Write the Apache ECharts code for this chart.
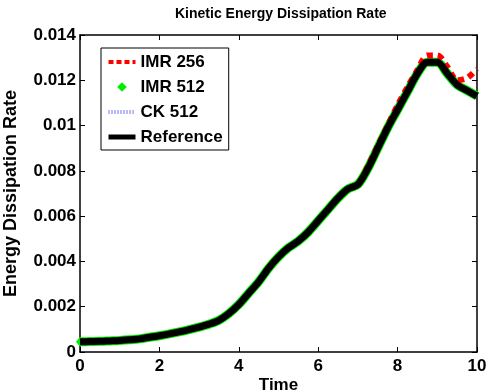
<!DOCTYPE html>
<html>
<head>
<meta charset="utf-8">
<script src="https://cdn.jsdelivr.net/npm/echarts@6/dist/echarts.min.js"></script>
<style>html,body{margin:0;padding:0;background:#fff}#c{width:488px;height:391px}</style>
</head>
<body>
<div id="c"></div>
<script>
var times = [0,0.25,0.5,0.75,1,1.25,1.5,1.75,2,2.25,2.5,2.75,3,3.25,3.5,3.75,4,4.25,4.5,4.75,5,5.25,5.5,5.75,6,6.25,6.5,6.75,7,7.25,7.5,7.75,8,8.25,8.5,8.75,9,9.25,9.5,9.75,10];
var reference = [0.00045,0.00046,0.00047,0.00049,0.00051,0.00054,0.00058,0.00065,0.00072,0.0008,0.00089,0.00099,0.0011,0.00123,0.0014,0.0017,0.0021,0.0026,0.0031,0.0037,0.0042,0.0046,0.0049,0.0053,0.0058,0.0063,0.0068,0.0072,0.0074,0.0081,0.009,0.0099,0.0107,0.0115,0.0123,0.0128,0.0128,0.0123,0.0118,0.01155,0.0113];
var imr256 = [0.00045,0.00046,0.00047,0.00049,0.00051,0.00054,0.00058,0.00065,0.00072,0.0008,0.00089,0.00099,0.0011,0.00123,0.0014,0.0017,0.0021,0.0026,0.0031,0.0037,0.0042,0.0046,0.0049,0.0053,0.0058,0.0063,0.0068,0.0072,0.0074,0.0082,0.0091,0.01,0.0109,0.0117,0.01245,0.0131,0.0131,0.0126,0.012,0.0121,0.0125];
var imr512 = [0.00045,0.00046,0.00047,0.00049,0.00051,0.00054,0.00058,0.00065,0.00072,0.0008,0.00089,0.00099,0.0011,0.00123,0.0014,0.0017,0.0021,0.0026,0.0031,0.0037,0.0042,0.0046,0.0049,0.0053,0.0058,0.0063,0.0068,0.0072,0.0074,0.0081,0.009,0.0099,0.0107,0.0115,0.0123,0.0128,0.0128,0.0123,0.0118,0.01155,0.0113];
var ck512 = [0.00045,0.00046,0.00047,0.00049,0.00051,0.00054,0.00058,0.00065,0.00072,0.0008,0.00089,0.00099,0.0011,0.00123,0.0014,0.0017,0.0021,0.0026,0.0031,0.0037,0.0042,0.0046,0.0049,0.0053,0.0058,0.0063,0.0068,0.0072,0.0074,0.0081,0.009,0.0099,0.0107,0.0115,0.0123,0.0128,0.0128,0.0123,0.0118,0.01155,0.0113];
var seriesNames = ['IMR 256','IMR 512','CK 512','Reference'];
var xTicks = {min:0, max:10, interval:2};
var yTicks = {min:0, max:0.014, interval:0.002};

function pairs(vals){ return times.map(function(t,i){ return [t, vals[i]]; }); }
var FONT = '"Liberation Sans", Arial, Helvetica, sans-serif';
var chart = echarts.init(document.getElementById('c'));
var greenData = pairs(imr512).map(function(p,i){
  return i === 0 ? {value:p} : {value:p, symbol:'none'};
});
var axisCommon = {
  axisLine:{show:true, onZero:false, lineStyle:{color:'#000', width:1.5}},
  axisTick:{show:true, inside:true, length:5, lineStyle:{color:'#000', width:1}},
  splitLine:{show:false}
};
chart.setOption({
  animation:false,
  backgroundColor:'#fff',
  title:{text:'Kinetic Energy Dissipation Rate', left:175, top:7, padding:0,
    textStyle:{fontFamily:FONT, fontWeight:'bold', fontSize:14, color:'#000'}},
  grid:{left:80, right:11, top:35, bottom:39, containLabel:false, outerBoundsMode:'none'},
  legend:{
    left:101, top:48, orient:'vertical',
    padding:[5,6,4,5], itemGap:7, itemWidth:27, itemHeight:12, itemTextGap:3,
    borderColor:'#000', borderWidth:1, backgroundColor:'#fff',
    itemStyle:{opacity:0},
    textStyle:{fontFamily:FONT, fontWeight:'bold', fontSize:17, color:'#000', lineHeight:18},
    data:[
      {name:'IMR 256', lineStyle:{width:4, type:[5,3]}},
      {name:'IMR 512', itemStyle:{opacity:1}, lineStyle:{opacity:0}},
      {name:'CK 512', lineStyle:{width:4, type:[1,2]}},
      {name:'Reference', lineStyle:{width:5}}
    ]
  },
  xAxis:[
    Object.assign({type:'value', min:xTicks.min, max:xTicks.max, interval:xTicks.interval, position:'bottom',
      name:'Time', nameLocation:'middle', nameGap:25, nameMoveOverlap:false,
      nameTextStyle:{fontFamily:FONT, fontWeight:'bold', fontSize:17, color:'#000', verticalAlign:'top'},
      axisLabel:{fontFamily:FONT, fontWeight:'bold', fontSize:17, color:'#000', margin:6}}, axisCommon),
    Object.assign({type:'value', min:xTicks.min, max:xTicks.max, interval:xTicks.interval, position:'top',
      axisLabel:{show:false}}, axisCommon)
  ],
  yAxis:[
    Object.assign({type:'value', min:yTicks.min, max:yTicks.max, interval:yTicks.interval, position:'left',
      name:'Energy Dissipation Rate', nameLocation:'middle', nameGap:60, nameRotate:90, nameMoveOverlap:false,
      nameTextStyle:{fontFamily:FONT, fontWeight:'bold', fontSize:18, color:'#000'},
      axisLabel:{fontFamily:FONT, fontWeight:'bold', fontSize:17, color:'#000', margin:4}}, axisCommon),
    Object.assign({type:'value', min:yTicks.min, max:yTicks.max, interval:yTicks.interval, position:'right',
      axisLabel:{show:false}}, axisCommon)
  ],
  series:[
    {name:seriesNames[1], type:'line', data:greenData, smooth:0.3, z:2, showSymbol:true,
      symbol:'diamond', symbolSize:[8,10],
      itemStyle:{color:'#00ee00'}, lineStyle:{color:'#00ee00', width:9}},
    {name:seriesNames[0], type:'line', data:pairs(imr256), smooth:0.3, symbol:'none', z:3,
      itemStyle:{color:'#ff0000'}, lineStyle:{color:'#ff0000', width:6, type:[6,5], cap:'butt'}},
    {name:seriesNames[2], type:'line', data:pairs(ck512), smooth:0.3, symbol:'none', z:4,
      itemStyle:{color:'#7777ff'}, lineStyle:{color:'#7777ff', width:2, type:[1,2]}},
    {name:seriesNames[3], type:'line', data:pairs(reference), smooth:0.3, symbol:'none', z:5,
      itemStyle:{color:'#000'}, lineStyle:{color:'#000', width:7}}
  ]
});
</script>
</body>
</html>
